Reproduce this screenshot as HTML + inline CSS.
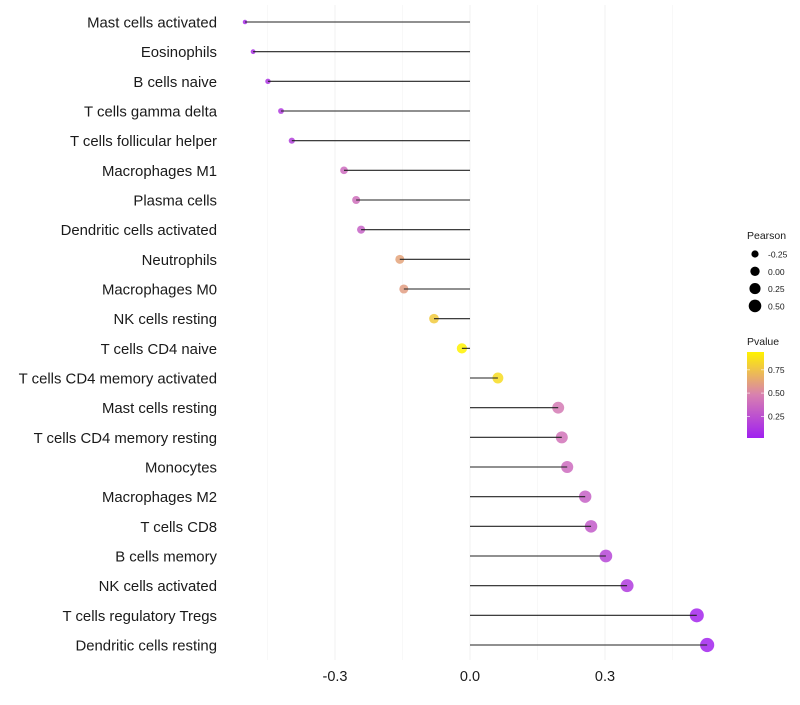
<!DOCTYPE html>
<html><head><meta charset="utf-8"><style>
body{margin:0;background:#fff;font-family:"Liberation Sans",sans-serif;}
svg text{font-family:"Liberation Sans",sans-serif;}
</style></head><body>
<svg id="chart" width="800" height="700"></svg>
<script>
const categories=["Mast cells activated","Eosinophils","B cells naive","T cells gamma delta","T cells follicular helper","Macrophages M1","Plasma cells","Dendritic cells activated","Neutrophils","Macrophages M0","NK cells resting","T cells CD4 naive","T cells CD4 memory activated","Mast cells resting","T cells CD4 memory resting","Monocytes","Macrophages M2","T cells CD8","B cells memory","NK cells activated","T cells regulatory  Tregs ","Dendritic cells resting"];
const pearson=[-0.5,-0.482,-0.449,-0.42,-0.396,-0.28,-0.253,-0.242,-0.156,-0.147,-0.08,-0.018,0.062,0.196,0.204,0.216,0.256,0.269,0.302,0.349,0.504,0.527];
const pvalue=[0.08,0.1,0.12,0.15,0.17,0.38,0.4,0.33,0.62,0.6,0.78,0.95,0.85,0.45,0.42,0.38,0.33,0.3,0.2,0.15,0.05,0.04];
const xTicks=[-0.3,0.0,0.3];
const xTickLabels=["-0.3","0.0","0.3"];
const xMinor=[-0.45,-0.15,0.15,0.45];
const sizeBreaks=[-0.25,0,0.25,0.5];
const sizeLabels=["-0.25","0.00","0.25","0.50"];
const colorBreaks=[0.25,0.5,0.75];
const colorLabels=["0.25","0.50","0.75"];

const NS="http://www.w3.org/2000/svg";
const svg=document.getElementById('chart');
function mk(t,a,p){const e=document.createElementNS(NS,t);for(const k in a)e.setAttribute(k,a[k]);(p||svg).appendChild(e);return e;}
const x=v=>470+v*450;
const y=i=>22+i*(623/21);
const r=v=>Math.sqrt(Math.max(2,27+44*v));
const stops=[[0.02,[160,32,240]],[0.48,[216,128,176]],[0.94,[255,242,0]]];
function col(p){
  if(p<=stops[0][0])return `rgb(${stops[0][1]})`;
  for(let i=0;i<stops.length-1;i++){const a=stops[i],b=stops[i+1];
    if(p<=b[0]){const t=(p-a[0])/(b[0]-a[0]);return `rgb(${a[1].map((c,j)=>Math.round(c+(b[1][j]-c)*t))})`;}}
  return `rgb(${stops[2][1]})`;
}
const grid=mk('g',{});


xMinor.forEach(v=>mk('line',{x1:x(v),x2:x(v),y1:5,y2:660,stroke:'#f7f7f7','stroke-width':0.8},grid));
xTicks.forEach(v=>mk('line',{x1:x(v),x2:x(v),y1:5,y2:660,stroke:'#f2f2f2','stroke-width':1.1},grid));
categories.forEach((c,i)=>{
  const lab=mk('text',{x:217,y:y(i)+5.5,'text-anchor':'end','font-size':14.9,fill:'#1a1a1a'});
  lab.textContent=c;
  
  
  const pt=mk('circle',{cx:x(pearson[i]),cy:y(i),r:r(pearson[i]),fill:col(pvalue[i]),'fill-opacity':0.85});
  
  
  const sg=mk('line',{x1:x(0),x2:x(pearson[i]),y1:y(i),y2:y(i),stroke:'#222','stroke-width':1.1});
  
  
});
xTicks.forEach((v,i)=>{
  const t=mk('text',{x:x(v),y:681,'text-anchor':'middle','font-size':14.5,fill:'#1a1a1a'});
  t.textContent=xTickLabels[i];
  
  
});
const lg=mk('g',{});


mk('text',{x:747,y:239,'font-size':10.5,fill:'#1a1a1a'},lg).textContent='Pearson';
sizeBreaks.forEach((v,i)=>{
  const cy=254+i*17.3;
  mk('circle',{cx:755,cy:cy,r:r(v)*0.9,fill:'#000'},lg);
  mk('text',{x:768,y:cy+3.5,'font-size':8.5,fill:'#1a1a1a'},lg).textContent=sizeLabels[i];
});
const cg=mk('g',{});


mk('text',{x:747,y:345,'font-size':10.5,fill:'#1a1a1a'},cg).textContent='Pvalue';
const defs=mk('defs',{},cg);
const gr=mk('linearGradient',{id:'pg',x1:0,y1:1,x2:0,y2:0},defs);
[[0,stops[0][1]],[0.5,stops[1][1]],[1,stops[2][1]]].forEach(s=>mk('stop',{offset:s[0],'stop-color':`rgb(${s[1]})`},gr));
mk('rect',{x:747,y:352,width:17,height:86,fill:'url(#pg)'},cg);
const cy=v=>438-(v-0.02)/(0.92)*86;
colorBreaks.forEach((v,i)=>{
  mk('line',{x1:747,x2:750,y1:cy(v),y2:cy(v),stroke:'#fff','stroke-opacity':0.6},cg);
  mk('line',{x1:761,x2:764,y1:cy(v),y2:cy(v),stroke:'#fff','stroke-opacity':0.6},cg);
  mk('text',{x:768,y:cy(v)+3,'font-size':8.5,fill:'#1a1a1a'},cg).textContent=colorLabels[i];
});
</script>
</body></html>
